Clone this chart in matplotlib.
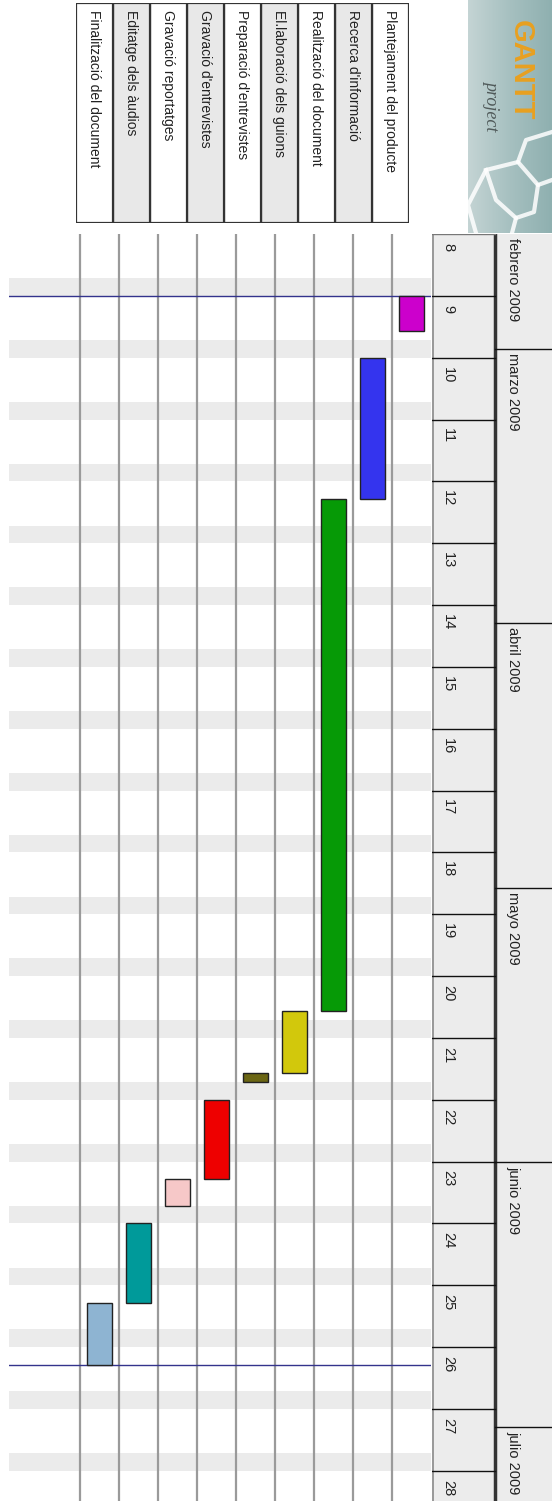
import numpy as np
import pandas as pd
import matplotlib
matplotlib.use("Agg")
import matplotlib.pyplot as plt
from matplotlib.patches import Rectangle

# Data (GanttProject screenshot, rotated 90 degrees clockwise)
tasks = ["Plantejament del producte", "Recerca d'informació", "Realització del document",
         "El.laboració dels guions", "Preparació d'entrevistes", "Gravació d'entrevistes",
         "Gravació reportatges", "Editatge dels àudios", "Finalització del document"]
starts = ["2009-02-23", "2009-03-02", "2009-03-18", "2009-05-15", "2009-05-22",
          "2009-05-25", "2009-06-03", "2009-06-08", "2009-06-17"]
ends = ["2009-02-27", "2009-03-18", "2009-05-15", "2009-05-22", "2009-05-23",
        "2009-06-03", "2009-06-06", "2009-06-17", "2009-06-24"]
bar_colors = ["#cc00cc", "#3434ee", "#069a06", "#d2c80c", "#6b6614",
              "#ee0000", "#f6c8c8", "#009a9a", "#8eb4d2"]

months = ["febrero 2009", "marzo 2009", "abril 2009", "mayo 2009", "junio 2009", "julio 2009"]
month_starts = ["2009-02-01", "2009-03-01", "2009-04-01", "2009-05-01", "2009-06-01", "2009-07-01"]
weeks = list(range(8, 29))
origin = pd.Timestamp("2009-02-16")   # monday of week 8
project_lines = ["2009-02-23", "2009-06-24"]

plt.rcParams['font.family'] = ['Liberation Sans Narrow', 'Liberation Sans', 'DejaVu Sans']

W, H = 552, 1501
fig = plt.figure(figsize=(W / 100, H / 100), dpi=100)
fig.patch.set_facecolor("white")


def ax_at(x0, y0, x1, y1):
    # pixel box (top-left origin) -> axes
    a = fig.add_axes([x0 / W, 1 - y1 / H, (x1 - x0) / W, (y1 - y0) / H])
    a.set_axis_off()
    return a


def day(d):
    return (pd.Timestamp(d) - origin).days


px_day = 61.84 / 7
top_px = 234
bottom_day = (H - top_px) / px_day
text_col = "#222222"

# ---- gantt area ----
ax = ax_at(9, top_px, 431, H)
ax.set_ylim(bottom_day, 0)
ax.set_xlim(10.32, -0.5)
for w in weeks:
    ws = 7 * (w - 8)
    ax.axhspan(ws + 5, ws + 7, color="#ebebeb", lw=0, zorder=0)
for k in range(len(tasks)):
    ax.axvline(k + 0.5, color="#9a9a9a", lw=1.6, zorder=1)
for d in project_lines:
    ax.axhline(day(d), color="#33338c", lw=1.0, zorder=2)
for k in range(len(tasks)):
    s, e = day(starts[k]), day(ends[k])
    ax.add_patch(Rectangle((k - 0.31, s), 0.62, e - s, facecolor=bar_colors[k],
                           edgecolor="#222222", lw=1.0, zorder=3))

# ---- timeline header (weeks + months) ----
hx = ax_at(432, top_px, W, H)
hx.set_ylim(bottom_day, 0)
hx.set_xlim(0, 120)
hx.add_patch(Rectangle((0, 0), 120, bottom_day, facecolor="#ececec", lw=0, zorder=0))
hx.axvline(0.5, color="#8a8a8a", lw=1.2)
hx.axvline(63, color="#333333", lw=2.5)
hx.axhline(0, xmax=63 / 120, color="#777777", lw=1.0)
for w in weeks:
    ws = 7 * (w - 8)
    if w > 8:
        hx.plot([0, 63], [ws, ws], color="#111111", lw=1.0)
    hx.text(9, ws + 1.0, str(w), rotation=-90, ha="left", va="top",
            fontsize=10.5, color=text_col)
for m, ms in zip(months, month_starts):
    d = day(ms)
    if d > 0:
        hx.plot([63, 120], [d, d], color="#111111", lw=1.0)
    hx.text(74, max(d, 0) + 0.5, m, rotation=-90, ha="left", va="top",
            fontsize=10.5, color=text_col)

# ---- task list ----
tx = ax_at(76, 3, 409, 223)
tx.set_xlim(8.5, -0.5)
tx.set_ylim(1, 0)
for k, t in enumerate(tasks):
    fc = "#e8e8e8" if k % 2 else "white"
    tx.add_patch(Rectangle((k - 0.5, 0), 1, 1, facecolor=fc, edgecolor="#333333", lw=1.6))
    tx.text(k + 0.02, 0.03, t, rotation=-90, ha="center", va="top",
            fontsize=10, color=text_col)

# ---- logo ----
lg = ax_at(468, 0, W, 233)
grad = np.linspace(0, 1, 60)[None, :] * np.ones((120, 1))
lg.imshow(grad, extent=(0, 84, 233, 0), cmap=matplotlib.colors.LinearSegmentedColormap.from_list(
    "logo", ["#c4d4d4", "#a6c0c0", "#8fb0b0"]), aspect="auto", zorder=0)
lg.set_xlim(0, 84)
lg.set_ylim(233, 0)
hexes = [[(8, 233), (0, 205), (18, 170), (50, 162), (70, 185), (84, 180)],
         [(50, 162), (58, 140), (84, 132)],
         [(18, 170), (28, 200), (48, 218), (44, 233)],
         [(70, 185), (66, 212), (48, 218)]]
for h in hexes:
    xs, ys = zip(*h)
    lg.plot(xs, ys, color="white", lw=3, alpha=0.85, zorder=1)
lg.text(53, 20, "GANTT", rotation=-90, ha="center", va="top", fontsize=21,
        fontweight="bold", color="#e8a020", family=["Liberation Sans", "DejaVu Sans"], zorder=2)
lg.text(24, 80, "project", rotation=-90, ha="center", va="top", fontsize=13,
        style="italic", color="#505a5a", family=["Liberation Serif", "DejaVu Serif"], zorder=2)

fig.savefig("out.png", dpi=100)
